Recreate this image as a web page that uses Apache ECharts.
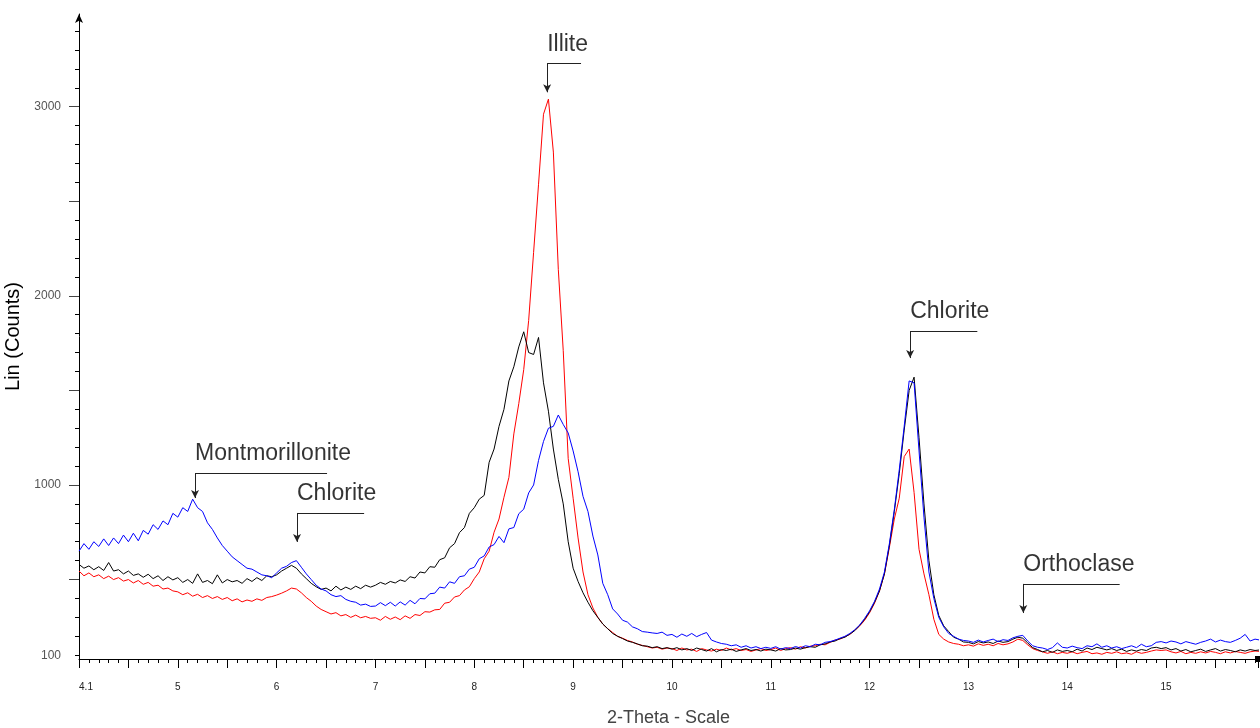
<!DOCTYPE html>
<html><head><meta charset="utf-8">
<script src="https://cdn.jsdelivr.net/npm/echarts@6/dist/echarts.min.js"></script>
<style>html,body{margin:0;padding:0;background:#fff}#c{width:1260px;height:728px}</style>
</head><body><div id="c"></div>
<script>
// 2-Theta grid of the scan (start and step of the readings below)
const thetaStart = 4.0;
const thetaStep = 0.05;

// Lin (Counts), read every 0.05 deg from 4.00 to 15.95 (20 values per degree)
const blueCounts = [
  650,690,660,700,675,715,680,720,690,735,700,745,705,760,740,790,765,810,790,850,
  830,880,860,925,880,860,800,765,720,680,650,620,600,580,560,555,540,525,520,510,
  535,560,570,590,600,565,530,500,470,450,440,420,410,415,395,385,380,365,370,358,
  360,378,362,380,360,382,365,390,372,400,398,425,428,460,455,488,480,515,520,555,
  565,610,625,672,685,728,695,768,775,848,872,958,1000,1130,1230,1300,1310,1370,1320,1275,
  1180,1070,940,860,730,630,480,420,345,318,285,275,250,240,225,222,218,215,222,205,
  210,195,212,200,215,198,210,220,180,170,162,158,150,155,142,150,138,145,135,142,
  136,145,132,140,135,146,138,150,145,158,155,168,172,180,190,200,215,235,260,295,
  335,385,450,540,690,870,1080,1310,1550,1540,1180,830,540,400,300,250,215,200,185,178,
  175,168,180,170,178,185,172,182,178,192,200,205,175,150,142,138,130,140,165,142,
  138,148,140,135,150,145,160,142,150,138,145,135,142,150,140,158,145,150,168,172,
  165,175,170,160,172,165,158,168,175,185,170,180,172,168,178,190,210,175,185,180
];
const blackCounts = [
  580,560,572,552,568,548,590,545,552,530,545,522,530,512,528,505,520,495,515,498,
  510,485,500,480,530,485,495,478,525,482,500,488,495,480,505,490,510,495,520,515,
  525,545,560,575,560,530,505,480,462,448,455,440,465,445,460,448,465,452,470,460,
  470,485,475,490,482,498,490,515,508,540,535,568,565,605,615,668,690,748,775,850,
  880,925,945,1120,1190,1310,1400,1550,1625,1730,1810,1700,1690,1780,1540,1390,1190,1030,900,700,
  560,490,430,380,335,300,265,240,215,200,188,175,168,160,150,148,140,145,135,140,
  132,140,128,135,125,138,130,122,135,118,130,125,132,120,128,135,125,130,122,132,
  128,122,135,128,130,138,132,140,145,142,155,160,170,175,188,195,212,230,258,290,
  330,380,440,530,680,860,1060,1290,1500,1570,1250,900,600,420,310,255,225,195,185,170,
  168,160,172,165,170,162,175,168,172,185,195,190,165,140,130,118,125,115,128,120,
  125,118,132,122,138,130,142,135,128,135,125,132,120,128,122,130,125,138,142,135,
  140,128,135,122,130,118,125,132,120,128,135,122,130,125,118,128,122,130,125,128
];
const redCounts = [
  545,520,535,515,525,505,518,500,510,492,500,482,495,475,485,465,470,450,455,440,
  435,420,430,412,422,405,415,400,410,395,405,388,398,382,392,385,398,390,405,410,
  418,428,440,455,450,430,405,385,360,342,330,318,325,308,315,300,312,298,305,295,
  298,285,305,290,302,288,308,295,315,310,330,328,340,342,375,380,408,415,445,462,
  505,540,610,650,750,820,935,1040,1270,1430,1610,1870,2230,2590,2960,3040,2760,2140,1710,1140,
  930,720,540,420,350,300,265,240,220,200,190,178,170,158,152,145,138,142,132,138,
  135,125,138,128,132,120,135,128,122,132,125,138,128,135,125,130,120,128,135,125,
  130,138,125,135,140,132,145,138,148,150,158,155,168,180,185,198,210,232,255,285,
  325,375,440,530,670,820,930,1150,1190,960,660,530,420,290,210,185,170,162,158,150,
  155,148,160,152,158,150,162,155,160,170,185,178,155,135,125,118,110,118,108,115,
  110,118,108,115,120,108,112,105,115,110,118,108,112,105,118,110,115,122,128,125,
  128,118,112,120,108,115,110,118,112,120,115,108,118,112,120,115,110,118,122,120
];

// axis ticks and labels
const xLabelValues = [4,5,6,7,8,9,10,11,12,13,14,15];
const xLabelTexts = ['4.1','5','6','7','8','9','10','11','12','13','14','15'];
const yLabelValues = [100,1000,2000,3000];
const yMajorTickValues = [500,1000,1500,2000,2500,3000];
const yMinorTickValues = [100,200,300,400,500,600,700,800,900,1000,1100,1200,1300,1400,1500,1600,1700,
  1800,1900,2000,2100,2200,2300,2400,2500,2600,2700,2800,2900,3000,3100,3200,3300,3400];

// peak annotations
const annoNames = ['Montmorillonite','Chlorite','Illite','Chlorite','Orthoclase'];
const annoX = [5.174, 6.206, 8.737, 12.41, 13.555];
const annoLineY = [1063, 852, 3230, 1814, 477];
const annoTipY = [931, 699, 3076, 1671, 323];
const annoLineEndX = [6.51, 6.885, 9.08, 13.09, 14.53];

function toPoints(arr){
  return arr.map((v,i)=>[Math.round((thetaStart + i*thetaStep)*100)/100, v]);
}
const font = '"Liberation Sans", Arial, sans-serif';

const markLines = [];
annoX.forEach((x,i)=>{
  markLines.push([{coord:[x, annoLineY[i]], symbol:'none'},{coord:[x, annoTipY[i]], symbol:'arrow', symbolSize:[6,8]}]);
  markLines.push([{coord:[x, annoLineY[i]], symbol:'none'},{coord:[annoLineEndX[i], annoLineY[i]], symbol:'none'}]);
});

const chart = echarts.init(document.getElementById('c'), null, {renderer:'canvas'});
const yBase = {type:'value', min:80, max:3490, splitLine:{show:false}, position:'left'};
chart.setOption({
  animation:false,
  backgroundColor:'#ffffff',
  grid:{left:79,right:2,top:14,bottom:69,containLabel:false,outerBoundsMode:'none'},
  xAxis:{
    type:'value', min:4.0, max:15.93, interval:0.5,
    axisLine:{lineStyle:{color:'#000',width:1}, symbol:['none','rect'], symbolSize:[6,6]},
    axisTick:{length:9, lineStyle:{color:'#000'}},
    minorTick:{show:true, splitNumber:5, length:4, lineStyle:{color:'#000'}},
    splitLine:{show:false}, minorSplitLine:{show:false},
    axisLabel:{
      customValues:xLabelValues, margin:23, fontSize:10, color:'#222', fontFamily:font,
      formatter:(v)=>{
        const i = xLabelValues.indexOf(Math.round(v));
        if (i === 0) return '{a|' + xLabelTexts[0] + '}';
        return i >= 0 ? xLabelTexts[i] : '';
      },
      rich:{a:{fontSize:10, color:'#222', fontFamily:font, padding:[0,0,0,14]}}
    },
    name:'2-Theta - Scale', nameLocation:'middle', nameGap:50,
    nameTextStyle:{fontSize:18, color:'#444', fontFamily:font}
  },
  yAxis:[
    Object.assign({}, yBase, {
      axisLine:{show:true, lineStyle:{color:'#000',width:1}, symbol:['none','arrow'], symbolSize:[6,9]},
      axisTick:{show:true, customValues:yMinorTickValues, length:4, lineStyle:{color:'#000'}},
      axisLabel:{customValues:yLabelValues, margin:18, fontSize:12, color:'#555', fontFamily:font,
                 formatter:(v)=>String(v)},
      name:'Lin (Counts)', nameLocation:'middle', nameGap:48,
      nameTextStyle:{fontSize:20, color:'#000', fontFamily:font}
    }),
    Object.assign({}, yBase, {
      axisLine:{show:false},
      axisTick:{show:true, customValues:yMajorTickValues, length:10, lineStyle:{color:'#444'}},
      axisLabel:{show:false}
    })
  ],
  series:[
    {type:'line', name:'red', data:toPoints(redCounts), showSymbol:false, symbol:'none',
     lineStyle:{color:'#ff0000', width:1}, itemStyle:{color:'#ff0000'}, clip:true, z:2},
    {type:'line', name:'black', data:toPoints(blackCounts), showSymbol:false, symbol:'none',
     lineStyle:{color:'#000000', width:1}, itemStyle:{color:'#000'}, clip:true, z:3},
    {type:'line', name:'blue', data:toPoints(blueCounts), showSymbol:false, symbol:'none',
     lineStyle:{color:'#0000ff', width:1}, itemStyle:{color:'#0000ff'}, clip:true, z:4},
    {type:'scatter', name:'annotations', symbolSize:0, z:5, silent:true,
     data:annoX.map((x,i)=>({value:[x, annoLineY[i]], name:annoNames[i]})),
     label:{show:true, position:'right', distance:0, offset:[0,-19], formatter:'{b}',
            fontSize:23, color:'#000', fontFamily:font},
     markLine:{silent:true, animation:false, label:{show:false},
               lineStyle:{color:'#222', width:1, type:'solid'},
               emphasis:{disabled:true}, data:markLines}}
  ]
});
</script></body></html>
